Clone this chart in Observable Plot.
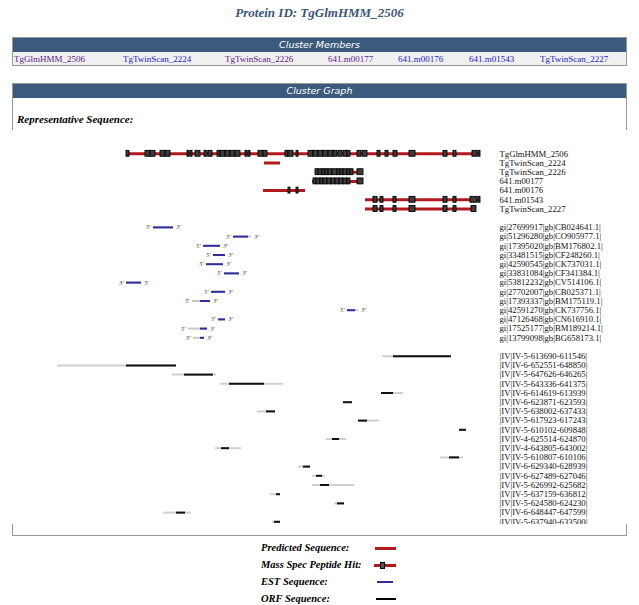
<!DOCTYPE html>
<html><head><meta charset="utf-8">
<script src="https://cdn.jsdelivr.net/npm/d3@7"></script>
<script src="https://cdn.jsdelivr.net/npm/@observablehq/plot@0.6"></script>
<style>
body{margin:0;background:#fff;}
#page{position:relative;width:639px;height:605px;overflow:hidden;font-family:"Liberation Serif",serif;}
.abs{position:absolute;}
#title{left:0;width:639px;top:5px;text-align:center;font:bold italic 13px "Liberation Serif",serif;color:#3a5878;}
.bar{background:#3b5b7c;color:#fff;font:italic 9.5px "DejaVu Sans",sans-serif;text-align:center;height:14px;line-height:14px;}
#members{left:12px;top:37px;width:613px;border:1px solid #999;background:#f0f0f0;}
#members table{border-collapse:collapse;width:613px;table-layout:fixed;}
#members td{font:9px "Liberation Serif",serif;padding:0 0 0 1px;height:13px;white-space:nowrap;}
#panel{left:12px;top:83px;width:613px;height:451px;border:1px solid #999;}
#repr{left:17px;top:113px;font:bold italic 11px "Liberation Serif",serif;color:#000;}
#graph{left:12px;top:130px;width:615px;height:394px;overflow:hidden;}
#legend{left:261px;top:539px;font:bold italic 10.5px "Liberation Serif",serif;}
.lg{position:relative;height:17px;line-height:17px;width:140px;}
.sw{position:absolute;top:8px;}
</style></head>
<body><div id="page">
<div id="title" class="abs">Protein ID: TgGlmHMM_2506</div>
<div id="members" class="abs"><div class="bar">Cluster Members</div><table><tr id="memrow"></tr></table></div>
<div id="panel" class="abs"><div class="bar">Cluster Graph</div></div>
<div id="repr" class="abs">Representative Sequence:</div>
<div id="graph" class="abs"></div>
<div id="legend" class="abs">
  <div class="lg">Predicted Sequence:<span class="sw" style="left:114px;width:21px;height:3px;background:#b3191c"></span></div>
  <div class="lg">Mass Spec Peptide Hit:<span class="sw" style="left:113px;width:22px;height:3px;background:#b3191c"></span><span class="sw" style="left:119px;top:6px;width:3px;height:5px;background:#555;border:1px solid #000"></span></div>
  <div class="lg">EST Sequence:<span class="sw" style="left:116px;width:16px;height:2px;background:#2e2ea0"></span></div>
  <div class="lg">ORF Sequence:<span class="sw" style="left:115px;width:20px;height:2px;background:#000"></span></div>
</div>
</div>
<script>
// ---- Cluster members ----
const memberNames = ["TgGlmHMM_2506","TgTwinScan_2224","TgTwinScan_2226","641.m00177","641.m00176","641.m01543","TgTwinScan_2227"];
const memberVisited = [true,false,true,true,false,false,false];
const memberColWidths = [108,101,102,69,70,70,93];

// ---- Predicted sequences (gene models) ----
const geneNames = ["TgGlmHMM_2506","TgTwinScan_2224","TgTwinScan_2226","641.m00177","641.m00176","641.m01543","TgTwinScan_2227"];
const geneStart = [1140,2520,3030,3000,2510,3530,3530];
const geneEnd   = [4670,2680,3510,3510,2930,4680,4640];

// ---- Mass spec peptide hits per gene ----
const hitsTgGlmHMM_2506 = [[1140,1170],[1330,1380],[1380,1430],[1480,1530],[1530,1580],[1750,1770],[1780,1800],[1830,1880],[1920,1950],[1960,2000],[2050,2080],[2080,2130],[2130,2180],[2180,2230],[2230,2280],[2330,2350],[2360,2380],[2460,2510],[2510,2550],[2730,2760],[2760,2810],[2840,2860],[2960,3010],[3010,3060],[3060,3110],[3110,3160],[3160,3210],[3210,3250],[3260,3300],[3310,3350],[3350,3380],[3450,3490],[3500,3550],[3650,3680],[3730,3760],[3810,3850],[3970,4030],[4310,4350],[4410,4440],[4600,4650],[4660,4680]];
const hitsTgTwinScan_2224 = [];
const hitsTgTwinScan_2226 = [[3030,3060],[3060,3100],[3100,3130],[3130,3160],[3160,3200],[3200,3250],[3250,3280],[3280,3310],[3310,3350],[3350,3380],[3380,3410],[3450,3510]];
const hits641_m00177 = [[3010,3040],[3040,3080],[3080,3110],[3110,3150],[3150,3190],[3190,3230],[3230,3270],[3270,3310],[3310,3350],[3350,3380],[3450,3510]];
const hits641_m00176 = [[2760,2780],[2840,2860]];
const hits641_m01543 = [[3610,3650],[3680,3710],[3810,3840],[3970,4030],[4310,4350],[4410,4440],[4580,4650],[4660,4680]];
const hitsTgTwinScan_2227 = [[3610,3650],[3680,3710],[3810,3840],[3970,4030],[4310,4350],[4410,4440],[4590,4640]];
const hitsByGene = [hitsTgGlmHMM_2506,hitsTgTwinScan_2224,hitsTgTwinScan_2226,hits641_m00177,hits641_m00176,hits641_m01543,hitsTgTwinScan_2227];

// ---- EST sequences ----
const estNames = ["gi|27699917|gb|CB024641.1|","gi|51296280|gb|CO905977.1|","gi|17395020|gb|BM176802.1|","gi|33481515|gb|CF248260.1|","gi|42590545|gb|CK737031.1|","gi|33831084|gb|CF341384.1|","gi|53812232|gb|CV514106.1|","gi|27702007|gb|CB025371.1|","gi|17393337|gb|BM175119.1|","gi|42591270|gb|CK737756.1|","gi|47126468|gb|CN616910.1|","gi|17525177|gb|BM189214.1|","gi|13799098|gb|BG658173.1|"];
const estStart     = [1410,2210,1910,2010,1940,2120,1140,1990,1800,3350,2060,1760,1810];
const estEnd       = [1610,2390,2080,2130,2110,2270,1290,2130,1980,3460,2130,1950,1920];
const estAlignStart= [1410,2210,1910,2010,1940,2120,1140,1990,1880,3350,2060,1880,1880];
const estAlignEnd  = [1610,2360,2080,2130,2110,2270,1290,2130,1980,3430,2130,1950,1920];
const estStrand    = ["+","+","+","+","+","+","-","+","+","+","+","+","+"];

// ---- ORF sequences ----
const orfNames = ["|IV|IV-5-613690-611546|","|IV|IV-6-652551-648850|","|IV|IV-5-647626-646265|","|IV|IV-5-643336-641375|","|IV|IV-6-614619-613939|","|IV|IV-6-623871-623593|","|IV|IV-5-638002-637433|","|IV|IV-5-617923-617243|","|IV|IV-5-610102-609848|","|IV|IV-4-625514-624870|","|IV|IV-4-643805-643002|","|IV|IV-5-610807-610106|","|IV|IV-6-629340-628939|","|IV|IV-6-627489-627046|","|IV|IV-5-626992-625682|","|IV|IV-5-637159-636812|","|IV|IV-5-624580-624230|","|IV|IV-6-648447-647599|","|IV|IV-5-637940-633500|"];
const orfStart    = [3700, 450,1600,2080,3690,3310,2450,3460,4470,3140,2030,4280,2860,3000,3000,2580,3220,1510,2600];
const orfEnd      = [4390,1640,2040,2710,3910,3400,2630,3670,4540,3340,2290,4510,2980,3130,3420,2680,3320,1790,2680];
const orfHitStart = [3810,1140,1720,2170,3690,3310,2540,3460,4470,3200,2090,4370,2910,3040,3080,2640,3250,1640,2620];
const orfHitEnd   = [4390,1640,2010,2520,3810,3400,2630,3550,4540,3270,2170,4470,2980,3100,3170,2680,3320,1730,2680];

// ---- build tables ----
const genes = geneNames.map((n,i)=>({name:n,row:i,start:geneStart[i],end:geneEnd[i]}));
const hits = hitsByGene.flatMap((h,i)=>h.map(([s,e])=>({row:i,start:s,end:e})));
const ESTROW = 8, ORFROW = 22;
const ests = estNames.map((n,i)=>({name:n,row:ESTROW+i,start:estStart[i],end:estEnd[i],as:estAlignStart[i],ae:estAlignEnd[i],strand:estStrand[i]}));
const orfs = orfNames.map((n,i)=>({name:n,row:ORFROW+i,start:orfStart[i],end:orfEnd[i],hs:orfHitStart[i],he:orfHitEnd[i]}));
const labels = [...genes,...ests,...orfs];

const memrow = document.getElementById("memrow");
memberNames.forEach((n,i)=>{
  const td=document.createElement("td");
  td.style.width=memberColWidths[i]+"px";
  td.style.color=memberVisited[i]?"#5a1a8b":"#1a1acc";
  td.textContent=n; memrow.appendChild(td);
});

const serif = "Liberation Serif";
const chart = Plot.plot({
  width: 615, height: 410,
  marginLeft: 0, marginRight: 129, marginTop: 0, marginBottom: 0,
  x: {domain: [0, 4860], axis: null},
  y: {domain: [0, 40], range: [23.3, 391.3], axis: null},
  style: {fontFamily: serif, background: "white", overflow: "hidden"},
  marks: [
    Plot.ruleY(genes, {y: "row", x1: "start", x2: "end", stroke: "#b3191c", strokeWidth: 3}),
    Plot.rect(hits, {x1: "start", x2: "end", y1: d => d.row - 0.32, y2: d => d.row + 0.32, fill: "#3c3c3c", stroke: "#000", strokeWidth: 0.9}),
    Plot.ruleY(ests, {y: "row", x1: "start", x2: "end", stroke: "#c8c8c8", strokeWidth: 2}),
    Plot.ruleY(ests, {y: "row", x1: "as", x2: "ae", stroke: "#2e2ea0", strokeWidth: 2}),
    Plot.text(ests, {y: "row", x: "start", text: d => d.strand === "+" ? "5'" : "3'", textAnchor: "end", dx: -3, fontSize: 6, fontStyle: "italic", fill: "#333"}),
    Plot.text(ests, {y: "row", x: "end", text: d => d.strand === "+" ? "3'" : "5'", textAnchor: "start", dx: 3, fontSize: 6, fontStyle: "italic", fill: "#333"}),
    Plot.ruleY(orfs, {y: "row", x1: "start", x2: "end", stroke: "#cfcfcf", strokeWidth: 2}),
    Plot.ruleY(orfs, {y: "row", x1: "hs", x2: "he", stroke: "#111", strokeWidth: 2}),
    Plot.text(labels, {y: "row", frameAnchor: "right", text: "name", textAnchor: "start", dx: 1, fontSize: 8.7, fill: "#111"})
  ]
});
document.getElementById("graph").appendChild(chart);
</script>
</body></html>
